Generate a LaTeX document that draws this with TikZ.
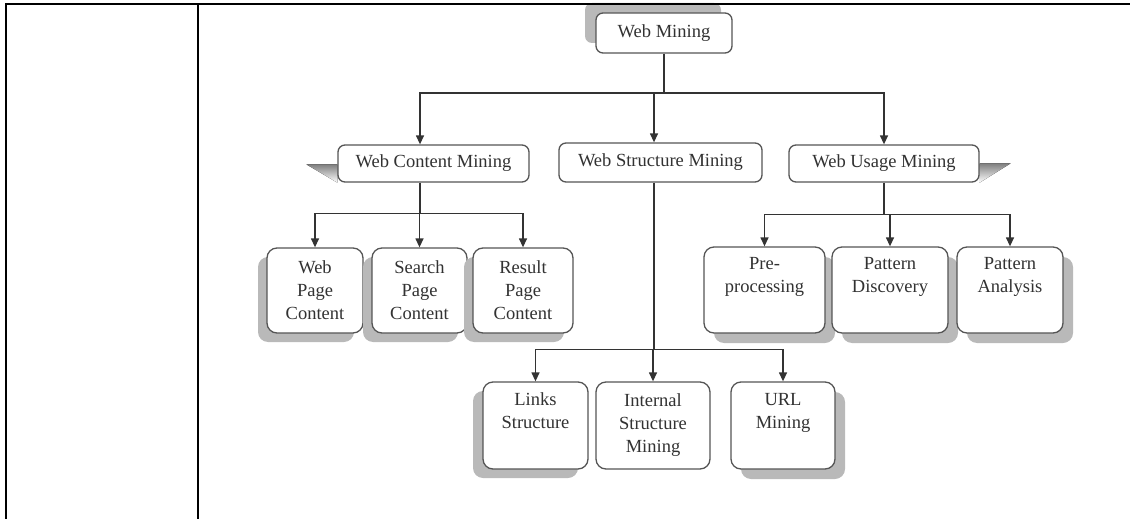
\documentclass[tikz,border=0pt]{standalone}
\usepackage{fontspec}
\setmainfont{Liberation Serif}
\usepackage{tikz}
\usetikzlibrary{arrows.meta,shapes,positioning,shadows,backgrounds}
\usepackage{xcolor}

\definecolor{boxline}{RGB}{85,85,85}
\definecolor{boxtext}{RGB}{50,50,50}
\definecolor{shade}{RGB}{185,185,185}

\tikzset{
  block/.style={draw=boxline, line width=1.3pt, rounded corners=7pt, fill=white,
    text=boxtext, align=center, inner sep=0pt, font=\fontsize{18.5}{23}\selectfont},
  tallblock/.style={block, rounded corners=10pt, minimum height=86pt},
  shd/.style 2 args={drop shadow={shadow xshift=#1, shadow yshift=#2, fill=shade, opacity=1}},
  link/.style={draw=black!80, line width=1.3pt},
  >={Triangle[length=9pt,width=8pt]},
}

\begin{document}
\begin{tikzpicture}[x=1pt, y=-1pt] % {{{
  \useasboundingbox (0,0) rectangle (1130,519);
  \begin{scope} % Top levels {{{
    \node[block, shd={-11pt}{10pt}, minimum width=136pt, minimum height=40pt] at (664,33) (wm) {Web Mining};
    \node[block, minimum width=191pt, minimum height=37pt] at (433.5,163.5) (wcm) {Web Content Mining};
    \node[block, minimum width=203pt, minimum height=39pt] at (660.5,162.5) (wsm) {Web Structure Mining};
    \node[block, minimum width=190pt, minimum height=37pt] at (884,163.5) (wum) {Web Usage Mining};
    \coordinate (hub) at (664,93);
    \coordinate (wcmin) at ([xshift=-13.5pt]wcm.north);
    \coordinate (wcmout) at ([xshift=-13.5pt]wcm.south);
    \coordinate (wsmin) at ([xshift=-6.5pt]wsm.north);
    \coordinate (wsmout) at ([xshift=-6.5pt]wsm.south);
    \begin{scope}[on background layer]
      \fill[shade] ([yshift=-20pt]wcm.north west) -- ++(-31,0) -- (wcm.south west) -- cycle;
      \fill[shade] ([yshift=-19pt]wum.north east) -- ++(31,0) -- (wum.south east) -- cycle;
    \end{scope}
    \draw[link] (wm) -- (hub);
    \draw[link,->] (hub) -| (wcmin);
    \draw[link,->] (hub -| wsmin) -- (wsmin);
    \draw[link,->] (hub) -| (wum.north);
  \end{scope} % }}}
  \begin{scope} % Content {{{
    \node[tallblock, shd={-9pt}{-9pt}, minimum width=96pt, minimum height=85pt] at (315,290.5) (wpc) {Web\\Page\\Content};
    \node[tallblock, shd={-9pt}{-9pt}, minimum width=95pt, minimum height=85pt] at (419.5,290.5) (spc) {Search\\Page\\Content};
    \node[tallblock, shd={-9pt}{-9pt}, minimum width=100pt, minimum height=85pt] at (523,290.5) (rpc) {Result\\Page\\Content};
    \draw[link] (wcmout) -- ++(0,31) coordinate (cbus);
    \foreach \b in {wpc,spc,rpc} {
      \draw[link,->] (cbus) -| (\b.north);
    }
  \end{scope} % }}}
  \begin{scope} % Usage {{{
    \node[tallblock, shd={10pt}{-10pt}, minimum width=121pt] at (764.5,290) (pre) {Pre-\\processing\\\strut};
    \node[tallblock, shd={10pt}{-10pt}, minimum width=116pt] at (890,290) (pd) {Pattern\\Discovery\\\strut};
    \node[tallblock, shd={10pt}{-10pt}, minimum width=106pt] at (1010,290) (pa) {Pattern\\Analysis\\\strut};
    \draw[link] (wum.south) -- ++(0,32) coordinate (ubus);
    \foreach \b in {pre,pd,pa} {
      \draw[link,->] (ubus) -| (\b.north);
    }
  \end{scope} % }}}
  \begin{scope} % Structure {{{
    \node[tallblock, shd={-10pt}{-9pt}, minimum width=105pt, minimum height=87pt] at (535.5,425.5) (ls) {Links\\Structure\\\strut};
    \node[tallblock, minimum width=114pt, minimum height=87pt] at (653,425.5) (ism) {Internal\\Structure\\Mining};
    \node[tallblock, shd={10pt}{-10pt}, minimum width=104pt, minimum height=87pt] at (783,425.5) (url) {URL\\Mining\\\strut};
    \draw[link] (wsmout) -- ++(0,167) coordinate (sbus);
    \foreach \b in {ls,ism,url} {
      \draw[link,->] (sbus) -| (\b.north);
    }
  \end{scope} % }}}
  % frame
  \draw[line width=1.6pt] (6,519) -- (6,4) -- (1130,4);
  \draw[line width=1.6pt] (198,4) -- (198,519);
\end{tikzpicture} % }}}
\end{document}
